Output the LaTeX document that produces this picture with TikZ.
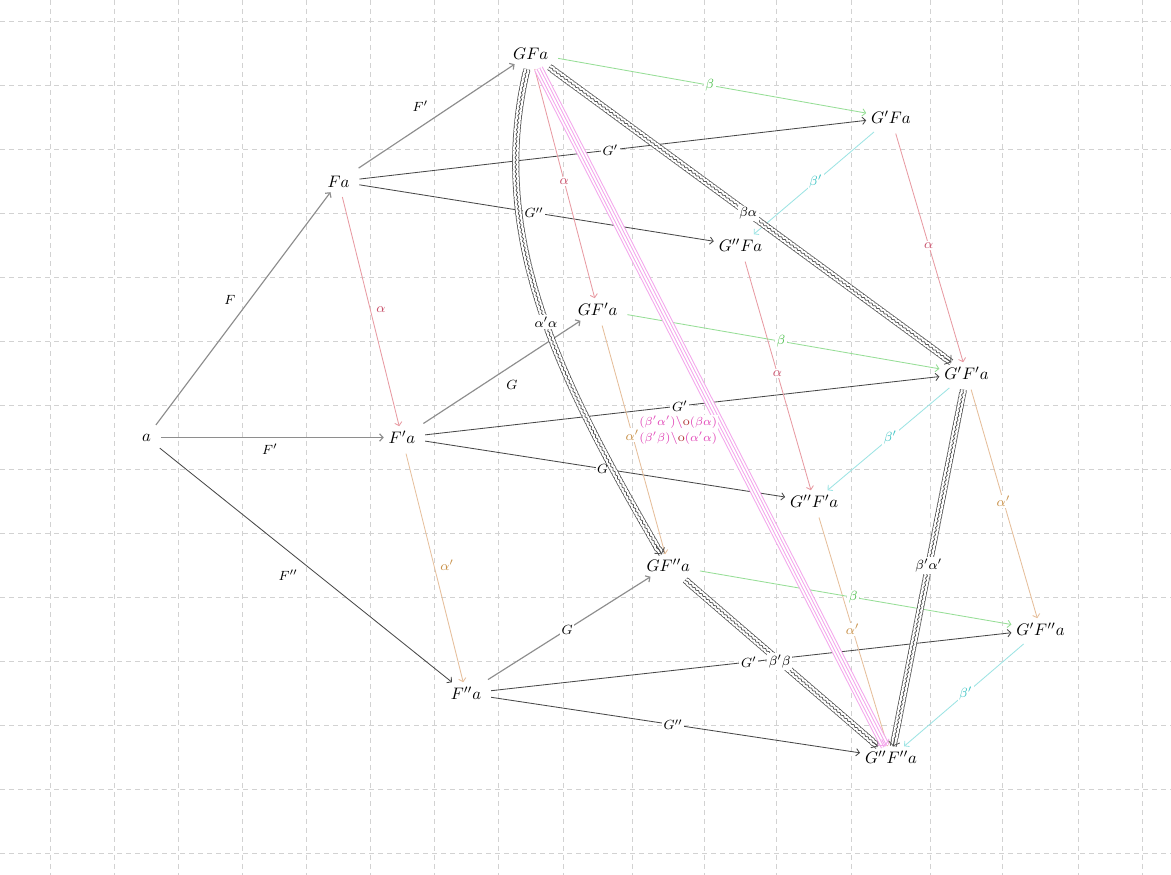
\documentclass[tikz,border=0pt]{standalone}
\usetikzlibrary{arrows.meta,decorations.pathmorphing,calc}
\definecolor{onec}{HTML}{474747}
\definecolor{onelc}{HTML}{8E8E8E}
\definecolor{alc}{HTML}{E89AA2}
\definecolor{allab}{HTML}{C8506A}
\definecolor{apc}{HTML}{E6BE9A}
\definecolor{aplab}{HTML}{C89048}
\definecolor{bc}{HTML}{96DE96}
\definecolor{blab}{HTML}{4CBF4C}
\definecolor{bpc}{HTML}{9CE4E4}
\definecolor{bplab}{HTML}{3CC4C4}
\definecolor{pkc}{HTML}{F4A6EC}
\definecolor{pklab}{HTML}{E03CB4}
\definecolor{errc}{HTML}{B03030}
\definecolor{wavec}{HTML}{505050}
\definecolor{gridc}{HTML}{D2D2D2}
\begin{document}
\begin{tikzpicture}[x=0.6pt,y=-0.6pt,
  ob/.style={inner sep=3pt, outer sep=0pt},
  arr1/.style={draw=onec, line width=.5pt, -{Straight Barb[length=2pt,width=4.4pt]}, shorten <=3pt},
  arr1l/.style={arr1, draw=onelc, line width=.7pt},
  nat/.style={line width=.5pt, -{Straight Barb[length=2pt,width=4.4pt]}, shorten <=3pt},
  lab/.style={font=\footnotesize, fill=white, inner sep=1pt},
  slab/.style={font=\footnotesize, inner sep=3.5pt},
  wavy/.style={draw=wavec, line width=4pt, line join=round, decorate,
    decoration={snake, amplitude=.45pt, segment length=2.8pt, pre length=4pt, post length=2.5pt},
    shorten <=3pt,
    postaction={draw=white, line width=3pt, line join=round},
    postaction={draw=wavec, line width=.45pt, line join=round}},
  wtip/.style={draw=wavec, line width=.5pt, -{Straight Barb[length=2.4pt,width=7pt]}},
  quad/.style={draw=pkc, line width=5.6pt, shorten <=3pt,
    postaction={draw=white, line width=4.4pt},
    postaction={draw=pkc, line width=2.3pt},
    postaction={draw=white, line width=1.1pt}},
  qtip/.style={draw=pkc, line width=.5pt, -{Straight Barb[length=2.6pt,width=8pt]}},
  gridline/.style={draw=gridc, line width=.5pt, dash pattern=on 3pt off 2.4pt}
]
\fill[white] (0,0) rectangle (1171,875);
\useasboundingbox (0,0) rectangle (1171,875);
% grid
\foreach \gx in {50.5,114.5,178.5,242.5,306.5,370.5,434,498.3,563.3,632.3,704.3,776.7,851.7,930.3,1002.7,1078.3,1142.3}
  \draw[gridline] (\gx,0) -- (\gx,875);
\foreach \gy in {21.5,85.5,149.5,213.5,277.5,341.5,405.5,469.5,533.5,597.5,661.5,725.5,789.5,853.5}
  \draw[gridline] (0,\gy) -- (1171,\gy);
% objects
\node[ob] (a) at (146.5,437.5) {$a$};
\node[ob] (Fa) at (338.5,181.5) {$Fa$};
\node[ob] (Fpa) at (402,437.5) {$F'a$};
\node[ob] (Fppa) at (466,693.5) {$F''a$};
\node[ob] (GFa) at (530.7,53.5) {$GFa$};
\node[ob] (GFpa) at (597.7,309.5) {$GF'a$};
\node[ob] (GFppa) at (668.3,565.5) {$GF''a$};
\node[ob] (GppFa) at (740.5,245.5) {$G''Fa$};
\node[ob] (GppFpa) at (814.2,501.5) {$G''F'a$};
\node[ob] (GpFa) at (891,117.5) {$G'Fa$};
\node[ob] (GppFppa) at (891,757.5) {$G''F''a$};
\node[ob] (GpFpa) at (966.5,373.5) {$G'F'a$};
\node[ob] (GpFppa) at (1040.5,629.5) {$G'F''a$};
% 1-cells
\draw[arr1l] (a) -- node[slab, above left]{$F$} (Fa);
\draw[arr1l] (a) -- node[slab, below]{$F'$} (Fpa);
\draw[arr1] (a) -- node[slab, below left]{$F''$} (Fppa);
\draw[arr1l] (Fa) -- node[slab, above left]{$F'$} (GFa);
\draw[arr1] (Fa) -- node[lab]{$G'$} (GpFa);
\draw[arr1] (Fa) -- node[lab]{$G''$} (GppFa);
\draw[arr1l] (Fpa) -- node[slab, below right]{$G$} (GFpa);
\draw[arr1] (Fpa) -- node[lab]{$G'$} (GpFpa);
\draw[arr1] (Fpa) -- node[lab]{$G$} (GppFpa);
\draw[arr1l] (Fppa) -- node[lab]{$G$} (GFppa);
\draw[arr1] (Fppa) -- node[lab]{$G'$} (GpFppa);
\draw[arr1] (Fppa) -- node[lab]{$G''$} (GppFppa);
% alpha
\draw[nat, draw=alc] (Fa) -- node[slab, right, text=allab]{$\alpha$} (Fpa);
\draw[nat, draw=alc] (GFa) -- node[lab, text=allab]{$\alpha$} (GFpa);
\draw[nat, draw=alc] (GppFa) -- node[lab, text=allab]{$\alpha$} (GppFpa);
\draw[nat, draw=alc] (GpFa) -- node[lab, text=allab]{$\alpha$} (GpFpa);
% alpha'
\draw[nat, draw=apc] (Fpa) -- node[slab, right, text=aplab]{$\alpha'$} (Fppa);
\draw[nat, draw=apc] (GFpa) -- node[lab, text=aplab, pos=.49]{$\alpha'$} (GFppa);
\draw[nat, draw=apc] (GppFpa) -- node[lab, text=aplab]{$\alpha'$} (GppFppa);
\draw[nat, draw=apc] (GpFpa) -- node[lab, text=aplab]{$\alpha'$} (GpFppa);
% beta
\draw[nat, draw=bc] (GFa) -- node[lab, text=blab]{$\beta$} (GpFa);
\draw[nat, draw=bc] (GFpa) -- node[lab, text=blab]{$\beta$} (GpFpa);
\draw[nat, draw=bc] (GFppa) -- node[lab, text=blab]{$\beta$} (GpFppa);
% beta'
\draw[nat, draw=bpc] (GpFa) -- node[lab, text=bplab]{$\beta'$} (GppFa);
\draw[nat, draw=bpc] (GpFpa) -- node[lab, text=bplab]{$\beta'$} (GppFpa);
\draw[nat, draw=bpc] (GpFppa) -- node[lab, text=bplab]{$\beta'$} (GppFppa);
% 3-cells (wavy)
\draw[wavy] (GFa) -- node[lab]{$\beta\alpha$} (GpFpa);
\path (GFa) -- coordinate[pos=.985] (t1a) coordinate[pos=1] (t1b) (GpFpa);
\draw[wtip] (t1a) -- (t1b);
\draw[wavy] (GFa) .. controls ($(GFa)+(-45,181.5)$) and ($(GFppa)+(-108,-185.5)$) .. node[lab, pos=.53]{$\alpha'\alpha$} (GFppa);
\path (GFa) .. controls ($(GFa)+(-45,181.5)$) and ($(GFppa)+(-108,-185.5)$) .. coordinate[pos=.985] (t2a) coordinate[pos=1] (t2b) (GFppa);
\draw[wtip] (t2a) -- (t2b);
\draw[wavy] (GpFpa) -- node[lab]{$\beta'\alpha'$} (GppFppa);
\path (GpFpa) -- coordinate[pos=.98] (t3a) coordinate[pos=1] (t3b) (GppFppa);
\draw[wtip] (t3a) -- (t3b);
\draw[wavy] (GFppa) -- node[lab]{$\beta'\beta$} (GppFppa);
\path (GFppa) -- coordinate[pos=.975] (t4a) coordinate[pos=1] (t4b) (GppFppa);
\draw[wtip] (t4a) -- (t4b);
% 4-cell (pink)
\draw[quad] (GFa) -- node[pos=.5, xshift=-19.5pt, yshift=-15pt, lab, inner sep=.5pt, align=center, text=pklab, font=\fontsize{7.4}{9.6}\selectfont]
  {$(\beta'\alpha')$\textbackslash\textcolor{errc}{o}$(\beta\alpha)$\\$(\beta'\beta)$\textbackslash\textcolor{errc}{o}$(\alpha'\alpha)$} (GppFppa);
\path (GFa) -- coordinate[pos=.99] (t5a) coordinate[pos=1] (t5b) (GppFppa);
\draw[qtip] (t5a) -- (t5b);
\end{tikzpicture}
\end{document}
